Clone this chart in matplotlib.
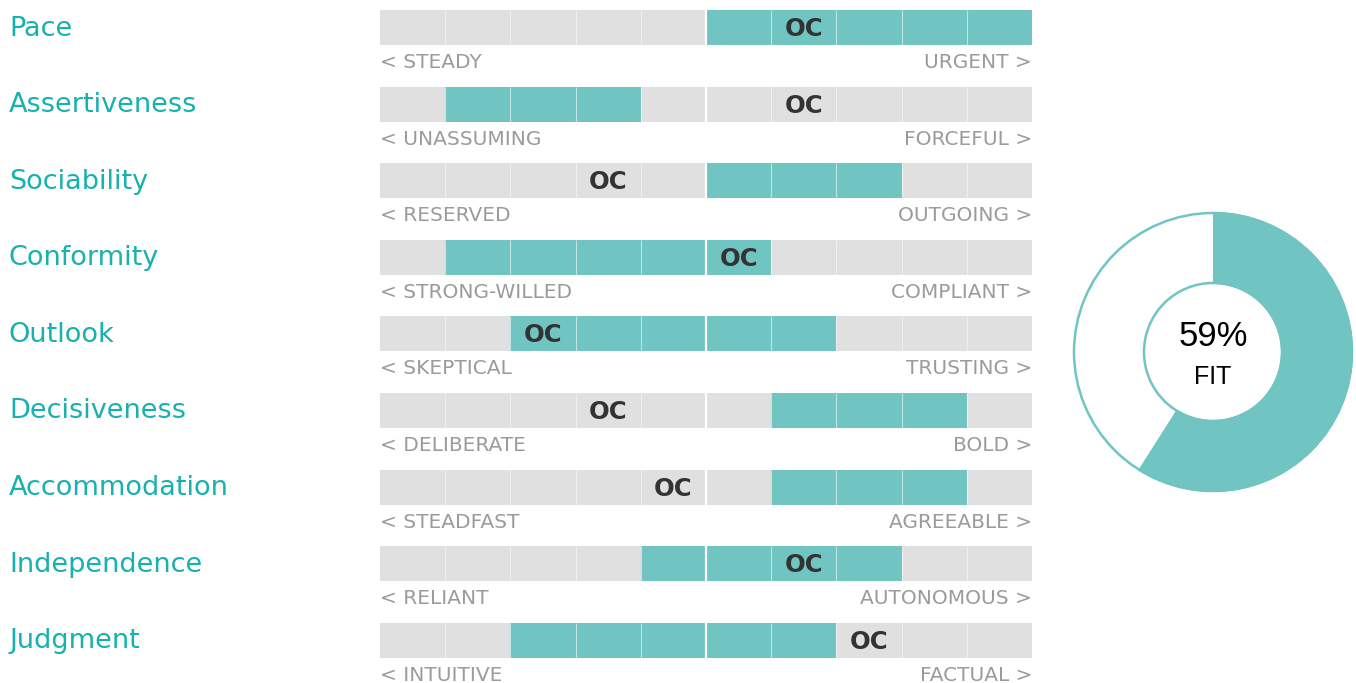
import matplotlib.pyplot as plt
from matplotlib.transforms import blended_transform_factory
from matplotlib.patches import Circle

# traits, left/right pole captions, teal range (in segments 0-10) and OC marker segment
traits = ['Pace', 'Assertiveness', 'Sociability', 'Conformity', 'Outlook',
          'Decisiveness', 'Accommodation', 'Independence', 'Judgment']
low_labels = ['< STEADY', '< UNASSUMING', '< RESERVED', '< STRONG-WILLED', '< SKEPTICAL',
              '< DELIBERATE', '< STEADFAST', '< RELIANT', '< INTUITIVE']
high_labels = ['URGENT >', 'FORCEFUL >', 'OUTGOING >', 'COMPLIANT >', 'TRUSTING >',
               'BOLD >', 'AGREEABLE >', 'AUTONOMOUS >', 'FACTUAL >']
range_start = [5, 1, 5, 1, 2, 6, 6, 4, 2]
range_end = [10, 4, 8, 6, 7, 9, 9, 8, 7]
oc_segment = [6, 6, 3, 5, 2, 3, 4, 6, 7]
n_segments = 10

fit_pct = 59

TEAL = '#70c5c2'
TEAL_TEXT = '#17b1ae'
GRAY = '#e0e0e0'
CAPTION = '#9b9b9b'

plt.rcParams['font.family'] = ['DejaVu Sans']

W, H = 1356, 683
fig = plt.figure(figsize=(W / 100, H / 100), dpi=100)

# bar panel: 76.6 px per row, first bar centred 27.5 px from the top
row_px = 76.6
ax = fig.add_axes([380 / W, 0, 652 / W, 1])
ax.set_xlim(0, n_segments)
ax.set_ylim(8 + (H - 27.5 - 8 * row_px) / row_px, -27.5 / row_px)
ax.axis('off')

rows = list(range(len(traits)))
bar_h = 35 / row_px
px = 1 / row_px

ax.barh(rows, [n_segments] * len(rows), left=0, height=bar_h, color=GRAY, linewidth=0)
ax.barh(rows, [e - s for s, e in zip(range_start, range_end)], left=range_start,
        height=bar_h, color=TEAL, linewidth=0)

# white segment dividers
for r in rows:
    for k in range(1, n_segments):
        lw = 1.6 if k == 5 else 0.8
        al = 1.0 if k == 5 else 0.55
        ax.vlines(k, r - bar_h / 2, r + bar_h / 2, color='white', lw=lw, alpha=al)

lbl_tf = blended_transform_factory(fig.transFigure, ax.transData)
for r in rows:
    ax.text(9 / W, r + 8 * px, traits[r], transform=lbl_tf, color=TEAL_TEXT,
            fontsize=19.5, va='baseline', ha='left')
    ax.text(0, r + 40.5 * px, low_labels[r], color=CAPTION, fontsize=14.5,
            va='baseline', ha='left')
    ax.text(n_segments, r + 40.5 * px, high_labels[r], color=CAPTION, fontsize=14.5,
            va='baseline', ha='right')
    ax.text(oc_segment[r] + 0.5, r + 8.5 * px, 'OC', color='#333333', fontsize=17.5,
            fontweight='bold', va='baseline', ha='center')

# fit donut
dax = fig.add_axes([(1213 - 146) / W, (H - 352 - 146) / H, 292 / W, 292 / H])
dax.set_aspect('equal')
dax.axis('off')
inner = 0.486
dax.pie([fit_pct, 100 - fit_pct], colors=[TEAL, 'white'], startangle=90,
        counterclock=False, radius=1, wedgeprops=dict(width=1 - inner, linewidth=0))
dax.add_patch(Circle((0, 0), 0.993, fill=False, ec=TEAL, lw=1.8))
dax.add_patch(Circle((0, 0), inner + 0.007, fill=False, ec=TEAL, lw=1.8))
dax.set_xlim(-1.043, 1.043)
dax.set_ylim(-1.043, 1.043)
dax.text(0, 0.11, f'{fit_pct}%', ha='center', va='center', fontsize=25,
         family='Liberation Sans', color='black')
dax.text(0, -0.18, 'FIT', ha='center', va='center', fontsize=18,
         family='Liberation Sans', color='black')

fig.savefig('out.png', dpi=100)
